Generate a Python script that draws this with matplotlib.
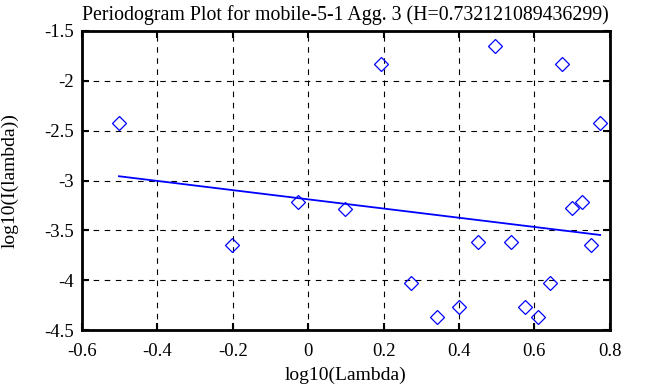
import matplotlib
matplotlib.use("Agg")
import matplotlib.pyplot as plt

# Periodogram points (log10 of frequency vs log10 of periodogram value)
log_lambda = [-0.502, -0.201, -0.026, 0.098, 0.193, 0.273, 0.342, 0.400, 0.451,
              0.496, 0.538, 0.575, 0.609, 0.642, 0.673, 0.700, 0.727, 0.751, 0.775]
log_I = [-2.42, -3.646, -3.215, -3.285, -1.83, -4.03, -4.37, -4.27, -3.617,
         -1.654, -3.617, -4.265, -4.366, -4.03, -1.828, -3.28, -3.212, -3.65, -2.426]

# Least-squares fit line endpoints
fit_x = [-0.502, 0.775]
fit_y = [-2.957, -3.546]

plt.rcParams["font.family"] = ["Liberation Serif", "DejaVu Serif"]
plt.rcParams["font.size"] = 13.5

fig = plt.figure(figsize=(6.53, 3.87), dpi=100)
ax = fig.add_axes([0.1256, 0.147, 0.808, 0.773])

ax.plot(log_lambda, log_I, linestyle="none", marker="D", markersize=7.2,
        markerfacecolor="none", markeredgecolor="blue", markeredgewidth=0.9)
ax.plot(fit_x, fit_y, color="blue", linewidth=1.3)

ax.set_xlim(-0.6, 0.8)
ax.set_ylim(-4.5, -1.5)
ax.set_xticks([-0.6, -0.4, -0.2, 0, 0.2, 0.4, 0.6, 0.8])
ax.set_xticklabels(["-0.6", "-0.4", "-0.2", "0", "0.2", "0.4", "0.6", "0.8"])
ax.set_yticks([-4.5, -4, -3.5, -3, -2.5, -2, -1.5])
ax.set_yticklabels(["-4.5", "-4", "-3.5", "-3", "-2.5", "-2", "-1.5"])

ax.grid(True, color="black", linestyle=(0, (5, 5)), linewidth=0.8)
ax.tick_params(direction="in", top=True, right=True, length=5, width=1.5)
ax.tick_params(axis="x", pad=9)
ax.tick_params(axis="y", pad=6)
for s in ax.spines.values():
    s.set_linewidth(2)

ax.set_title("Periodogram Plot for mobile-5-1 Agg. 3 (H=0.732121089436299)", fontsize=14.3, pad=8)
ax.set_xlabel("log10(Lambda)", fontsize=14, labelpad=5)
ax.set_ylabel("log10(I(lambda))", fontsize=14, labelpad=18)

fig.savefig("out.png", dpi=100)
